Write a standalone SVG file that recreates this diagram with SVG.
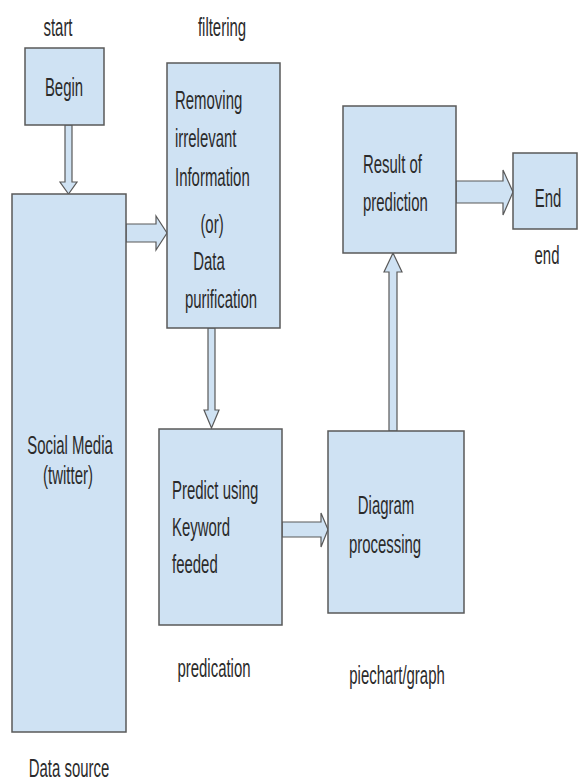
<svg xmlns="http://www.w3.org/2000/svg" width="584" height="782" viewBox="0 0 584 782">
<style>
.box{fill:#cfe2f3;stroke:#595959;stroke-width:1.5}
.arr{fill:#cfe2f3;stroke:#595959;stroke-width:1.2;stroke-linejoin:miter}
text{font-family:"Liberation Sans",Arial,sans-serif;font-size:26px;fill:#2b2b2b}
.m{text-anchor:middle}
</style>
<rect width="584" height="782" fill="#ffffff"/>
<g id="connectors">
<polygon class="arr" points="65,125 72,125 72,182 77,182 68.5,194 60,182 65,182"/>
<polygon class="arr" points="126,224 156,224 156,216 167,233 156,250 156,242 126,242"/>
<polygon class="arr" points="208,328 215,328 215,410 219,410 211.5,428 204,410 208,410"/>
<polygon class="arr" points="282,522 321,522 321,513 328,529.5 321,547 321,537 282,537"/>
<polygon class="arr" points="389,431 389,272 384,272 393,253 402,272 397,272 397,431"/>
<polygon class="arr" points="456,181 503,181 503,170 513,192 503,215 503,203 456,203"/>
</g>
<g id="label-start"><text class="m" transform="translate(58,36) scale(0.575,1)">start</text></g>
<g id="label-filtering"><text class="m" transform="translate(222,36) scale(0.575,1)">filtering</text></g>
<g id="begin">
<rect class="box" x="25" y="48" width="79" height="77"/>
<text class="m" transform="translate(64,96) scale(0.575,1)">Begin</text>
</g>
<g id="social">
<rect class="box" x="12" y="194" width="114" height="538"/>
<text class="m" transform="translate(70,454) scale(0.575,1)">Social Media</text>
<text class="m" transform="translate(68,484) scale(0.575,1)">(twitter)</text>
</g>
<g id="filter">
<rect class="box" x="167" y="63" width="113" height="265"/>
<text transform="translate(175,109) scale(0.575,1)">Removing</text>
<text transform="translate(175,147) scale(0.575,1)">irrelevant</text>
<text transform="translate(175,186) scale(0.575,1)">Information</text>
<text class="m" transform="translate(212,233) scale(0.575,1)">(or)</text>
<text class="m" transform="translate(209,270) scale(0.575,1)">Data</text>
<text class="m" transform="translate(221,308) scale(0.575,1)">purification</text>
</g>
<g id="predict">
<rect class="box" x="159" y="429" width="123" height="196"/>
<text transform="translate(172,499) scale(0.575,1)">Predict using</text>
<text transform="translate(172,536) scale(0.575,1)">Keyword</text>
<text transform="translate(172,573) scale(0.575,1)">feeded</text>
</g>
<g id="diagram">
<rect class="box" x="328" y="431" width="136" height="182"/>
<text class="m" transform="translate(386,514) scale(0.575,1)">Diagram</text>
<text class="m" transform="translate(385,553) scale(0.575,1)">processing</text>
</g>
<g id="result">
<rect class="box" x="343" y="106" width="113" height="147"/>
<text transform="translate(363,173) scale(0.575,1)">Result of</text>
<text transform="translate(363,211) scale(0.575,1)">prediction</text>
</g>
<g id="end">
<rect class="box" x="513" y="153" width="64" height="76"/>
<text class="m" transform="translate(548,207) scale(0.575,1)">End</text>
</g>
<g id="label-end"><text class="m" transform="translate(547,264) scale(0.575,1)">end</text></g>
<g id="label-predication"><text class="m" transform="translate(214,677) scale(0.575,1)">predication</text></g>
<g id="label-piechart"><text class="m" transform="translate(397,684) scale(0.575,1)">piechart/graph</text></g>
<g id="label-datasource"><text class="m" transform="translate(69,777) scale(0.575,1)">Data source</text></g>
</svg>
